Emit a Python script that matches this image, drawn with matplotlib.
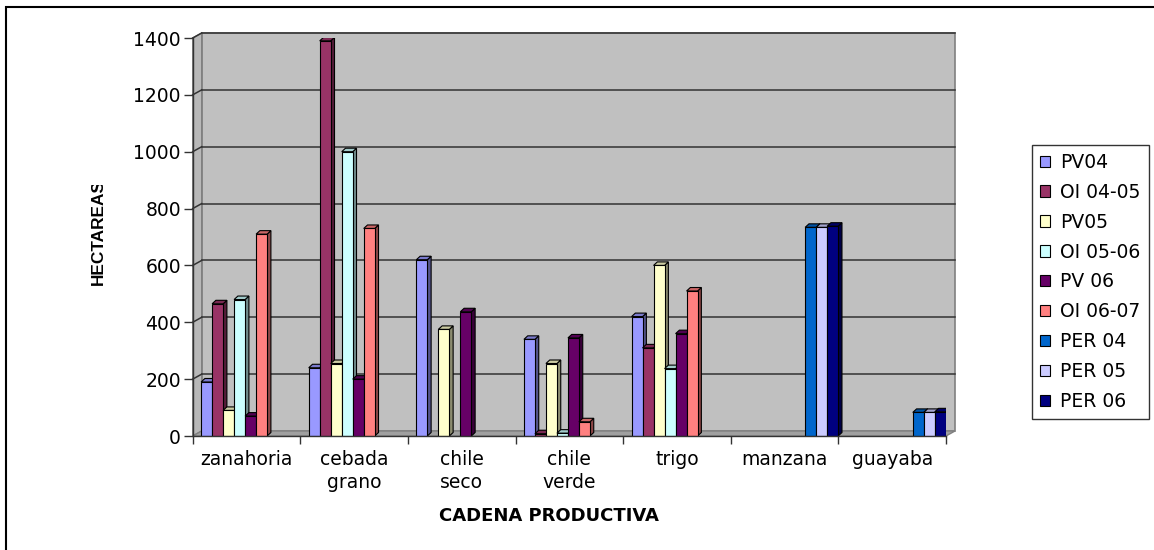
import numpy as np
import matplotlib.pyplot as plt
import matplotlib.colors as mcolors
from matplotlib.patches import Rectangle, Polygon
from matplotlib.transforms import Bbox

plt.rcParams['font.family'] = ['DejaVu Sans']

# datos (hectareas por cadena productiva)
cadenas = ['zanahoria', 'cebada\ngrano', 'chile\nseco', 'chile\nverde', 'trigo', 'manzana', 'guayaba']
series = ['PV04', 'OI 04-05', 'PV05', 'OI 05-06', 'PV 06', 'OI 06-07', 'PER 04', 'PER 05', 'PER 06']
nan = np.nan
pv04 = [190, 240, 620, 340, 420, nan, nan]
oi0405 = [465, 1390, nan, 8, 310, nan, nan]
pv05 = [90, 255, 375, 255, 600, nan, nan]
oi0506 = [480, 1000, nan, 10, 237, nan, nan]
pv06 = [70, 200, 437, 345, 360, nan, nan]
oi0607 = [710, 730, nan, 50, 510, nan, nan]
per04 = [nan, nan, nan, nan, nan, 734, 83]
per05 = [nan, nan, nan, nan, nan, 734, 83]
per06 = [nan, nan, nan, nan, nan, 738, 85]
valores = [pv04, oi0405, pv05, oi0506, pv06, oi0607, per04, per05, per06]
colores = ['#9999FF', '#993366', '#FFFFCC', '#CCFFFF', '#660066', '#FF8080',
           '#0066CC', '#CCCCFF', '#000080']

W, H = 1154, 550
fig = plt.figure(figsize=(W / 100, H / 100), dpi=100)
ax = fig.add_axes([192.7 / W, 114 / H, 753.3 / W, 398 / H])
ax.set_xlim(-0.5, 6.5)
ax.set_ylim(0, 1400)
ax.patch.set_visible(False)

# pixeles -> unidades de datos
px_x = 7 / 753.3
px_y = 1400 / 398
wdx, wdy = 9 * px_x, 5 * px_y      # profundidad de la pared
bdx, bdy = 3.8 * px_x, 3.5 * px_y  # profundidad de las barras

gris = '#C0C0C0'
borde = '#808080'
ax.add_patch(Rectangle((-0.5 + wdx, wdy), 7, 1400, fc=gris, ec=borde, lw=1.2, zorder=0, clip_on=False))
ax.add_patch(Polygon([(-0.5, 0), (-0.5 + wdx, wdy), (-0.5 + wdx, 1400 + wdy), (-0.5, 1400)],
                     closed=True, fc='#B8B8B8', ec=borde, lw=1.0, zorder=0, clip_on=False))
ax.add_patch(Polygon([(-0.5, 0), (6.5, 0), (6.5 + wdx, wdy), (-0.5 + wdx, wdy)],
                     closed=True, fc='#A0A0A0', ec=borde, lw=1.0, zorder=0.5, clip_on=False))
for v in range(200, 1401, 200):
    ax.plot([-0.5 + wdx, 6.5 + wdx], [v + wdy, v + wdy], color='#333333', lw=1.1, zorder=1, clip_on=False)
    ax.plot([-0.5, -0.5 + wdx], [v, v + wdy], color='#333333', lw=1.1, zorder=1, clip_on=False)


def sombra(c, f):
    r, g, b = mcolors.to_rgb(c)
    return (r * f, g * f, b * f)


w = 11 * px_x
x0 = np.arange(len(cadenas)) - 0.5 + 8.4 / 107.6
for j, (vals, col) in enumerate(zip(valores, colores)):
    xs = x0 + j * w
    z = 3 + 2 * j
    ax.bar(xs, vals, width=w, align='edge', color=col, edgecolor='black', lw=0.8, zorder=z + 1)
    for x, v in zip(xs, vals):
        if np.isnan(v):
            continue
        lado = [(x + w, 0), (x + w + bdx, bdy), (x + w + bdx, v + bdy), (x + w, v)]
        tapa = [(x, v), (x + w, v), (x + w + bdx, v + bdy), (x + bdx, v + bdy)]
        ax.add_patch(Polygon(lado, closed=True, fc=sombra(col, 0.55), ec='black', lw=0.8, zorder=z))
        ax.add_patch(Polygon(tapa, closed=True, fc=sombra(col, 0.8), ec='black', lw=0.8, zorder=z))

for s in ['top', 'right']:
    ax.spines[s].set_visible(False)
for s in ['left', 'bottom']:
    ax.spines[s].set_color('#333333')
    ax.spines[s].set_linewidth(1.0)
    ax.spines[s].set_zorder(50)

ax.set_yticks(range(0, 1401, 200))
ax.tick_params(axis='y', length=6.5, width=1, color='#333333', pad=2, labelsize=13.5)
ax.set_xticks(range(len(cadenas)))
ax.set_xticklabels(cadenas, fontsize=13.5, linespacing=1.3)
ax.set_xticks(np.arange(-0.5, 7, 1), minor=True)
ax.tick_params(axis='x', which='major', length=0, pad=10)
ax.tick_params(axis='x', which='minor', length=5.5, width=1, color='#333333')

# etiqueta del eje y, recortada como en el original
yl = fig.text(103 / W, 1 - 285 / H, 'HECTAREAS', rotation=90, fontsize=12.4, fontweight='bold',
              family='Liberation Sans', ha='left', va='baseline', rotation_mode='anchor')
yl.set_clip_box(Bbox([[0, 0], [W, H - 185]]))
yl.set_clip_on(True)

fig.text(549 / W, 1 - 516 / H, 'CADENA PRODUCTIVA', fontsize=13, fontweight='bold',
         ha='center', va='center')

handles = [Rectangle((0, 0), 1, 1, fc=c, ec='black', lw=0.8) for c in colores]
leg = fig.legend(handles, series, loc='upper left', bbox_to_anchor=(1032 / W, 1 - 145 / H),
                 fontsize=13.5, frameon=True, fancybox=False, edgecolor='black',
                 handlelength=0.55, handleheight=0.55, handletextpad=0.55,
                 labelspacing=0.58, borderpad=0.42, borderaxespad=0)
leg.get_frame().set_linewidth(1.0)

fig.patches.append(Rectangle((5.5 / W, -0.1), 1.2, (H - 6.5) / H + 0.1, transform=fig.transFigure,
                             fill=False, ec='black', lw=1.5))

fig.savefig('out.png', dpi=100)
